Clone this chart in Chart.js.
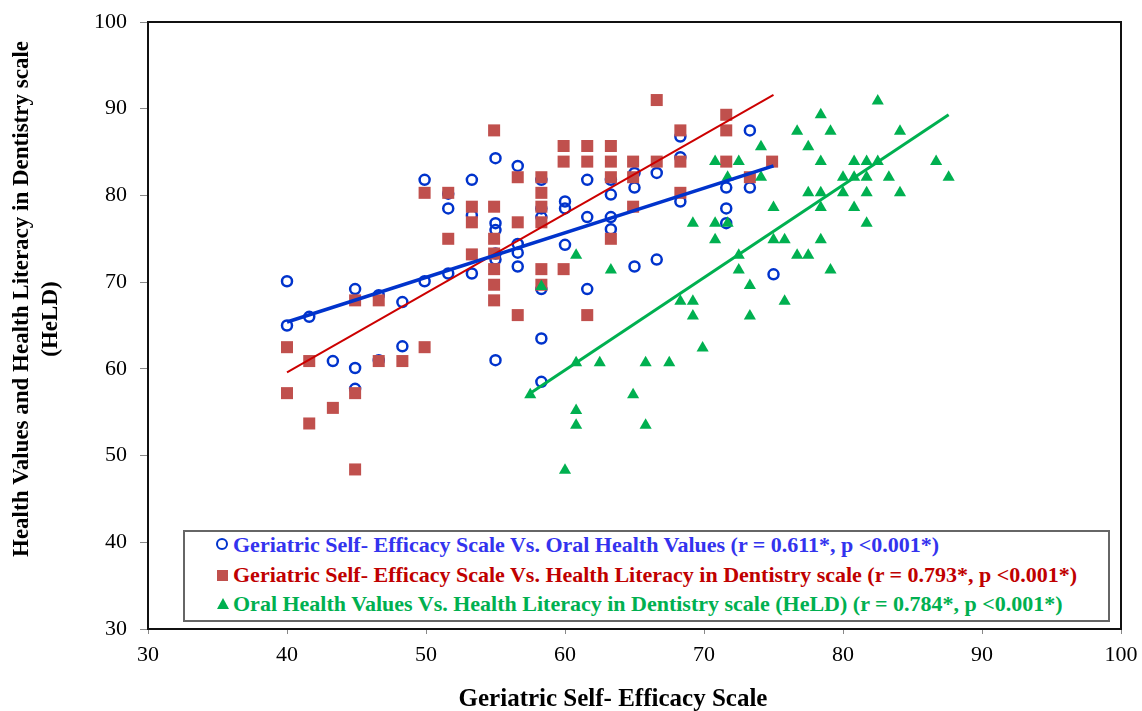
<!DOCTYPE html>
<html>
<head>
<meta charset="utf-8">
<title>Geriatric Self-Efficacy scatter</title>
<script src="https://cdn.jsdelivr.net/npm/chart.js@4.4.1/dist/chart.umd.min.js"></script>
<style>
    body { margin: 0; background: #fff; }
    #wrap { position: relative; width: 1142px; height: 711px; }
    #legend {
        position: absolute; left: 183px; top: 530px; width: 923px; height: 88px;
        border: 2px solid #666; background: #fff;
        font-family: "Liberation Serif", "Times New Roman", serif; font-weight: bold; font-size: 22px;
    }
    .row { position: absolute; left: 48px; height: 30px; line-height: 30px; white-space: nowrap; }
    .mk { position: absolute; }
    .circle { width: 8px; height: 8px; border: 2.5px solid #0033cc; border-radius: 50%; }
    .square { width: 11px; height: 11px; background: #c0504d; }
    .triangle { width: 0; height: 0; border-left: 6px solid transparent; border-right: 6px solid transparent; border-bottom: 11px solid #00b050; }
</style>
</head>
<body>
<div id="wrap">
    <canvas id="graph" width="1142" height="711"></canvas>
    <div id="legend"></div>
</div>
<script>
'use strict';

// Axe x : Geriatric Self-Efficacy Scale (ou Oral Health Values pour la série verte)
const xTicks = [30, 40, 50, 60, 70, 80, 90, 100];
const yTicks = [30, 40, 50, 60, 70, 80, 90, 100];

// Série 1 : GSES vs Oral Health Values (cercles bleus)
const blueX = [40, 40, 41.6, 43.3, 44.9, 44.9, 44.9, 46.6, 46.6, 48.3, 48.3, 49.9, 49.9,
    51.6, 51.6, 51.6, 53.3, 53.3, 53.3, 55, 55, 55, 55, 55, 55, 56.6, 56.6, 56.6, 56.6,
    58.3, 58.3, 58.3, 58.3, 58.3, 58.3, 60, 60, 60, 61.6, 61.6, 61.6, 63.3, 63.3, 63.3, 63.3,
    65, 65, 65, 66.6, 66.6, 68.3, 68.3, 68.3, 71.6, 71.6, 71.6, 73.3, 73.3, 75];
const blueY = [70.1, 65.0, 66.0, 60.9, 69.2, 60.1, 57.7, 68.5, 61.0, 67.7, 62.6, 81.8, 70.1,
    80.2, 78.5, 71.0, 81.8, 77.7, 71.0, 84.3, 76.8, 76.0, 73.3, 72.6, 61.0, 83.4, 74.4, 73.4, 71.8,
    81.8, 78.5, 77.5, 69.2, 63.5, 58.5, 79.3, 78.5, 74.3, 81.8, 77.5, 69.2, 81.8, 80.1, 77.5, 76.1,
    82.6, 80.9, 71.8, 82.6, 72.6, 86.8, 84.4, 79.3, 80.9, 78.5, 76.8, 87.5, 80.9, 70.9];

// Série 2 : GSES vs HeLD (carrés rouges)
const redX = [40, 40, 41.6, 41.6, 43.3, 44.9, 44.9, 44.9, 46.6, 46.6, 48.3, 49.9, 49.9,
    51.6, 51.6, 53.3, 53.3, 53.3, 54.9, 54.9, 54.9, 54.9, 54.9, 54.9, 54.9, 56.6, 56.6, 56.6,
    58.3, 58.3, 58.3, 58.3, 58.3, 58.3, 59.9, 59.9, 59.9, 61.6, 61.6, 61.6, 63.3, 63.3, 63.3, 63.3,
    64.9, 64.9, 64.9, 66.6, 66.6, 68.3, 68.3, 68.3, 71.6, 71.6, 71.6, 73.3, 74.9];
const redY = [62.5, 57.2, 60.9, 53.7, 55.5, 67.9, 57.2, 48.4, 67.9, 60.9, 60.9, 80.3, 62.5,
    80.3, 75.0, 78.7, 76.9, 73.2, 87.5, 78.7, 75.0, 73.3, 71.5, 69.7, 67.9, 82.1, 76.9, 66.2,
    82.1, 80.3, 78.7, 76.9, 71.5, 69.7, 85.7, 83.9, 71.5, 85.7, 83.9, 66.2, 85.7, 83.9, 82.1, 75.0,
    83.9, 82.1, 78.7, 91.0, 83.9, 87.5, 83.9, 80.3, 89.3, 87.5, 83.9, 82.1, 83.9];

// Série 3 : Oral Health Values vs HeLD (triangles verts)
const greenX = [57.5, 58.3, 60.0, 60.8, 60.8, 60.8, 60.8, 62.5, 63.3, 64.9, 65.8, 65.8, 67.5,
    68.3, 69.2, 69.2, 69.2, 69.9, 70.8, 70.8, 70.8, 71.7, 71.7, 72.5, 72.5, 72.5, 73.3, 73.3,
    74.1, 74.1, 75.0, 75.0, 75.8, 75.8, 76.7, 76.7, 77.5, 77.5, 77.5, 78.4, 78.4, 78.4, 78.4, 78.4,
    79.1, 79.1, 80.0, 80.0, 80.8, 80.8, 80.8, 81.7, 81.7, 81.7, 81.7, 82.5, 82.5, 83.3, 84.1, 84.1,
    86.7, 87.6];
const greenY = [57.0, 69.5, 48.3, 73.1, 60.7, 55.2, 53.5, 60.7, 71.4, 57.0, 60.7, 53.5, 60.7,
    67.8, 76.8, 67.8, 66.1, 62.4, 83.9, 76.8, 74.9, 82.1, 76.8, 83.9, 73.1, 71.4, 69.6, 66.1,
    85.6, 82.1, 78.6, 74.9, 74.9, 67.8, 87.4, 73.1, 85.6, 80.3, 73.1, 89.3, 83.9, 80.3, 78.6, 74.9,
    87.4, 71.4, 82.1, 80.3, 83.9, 82.1, 78.6, 83.9, 82.1, 80.3, 76.8, 90.9, 83.9, 82.1, 87.4, 80.3,
    83.9, 82.1];

// Droites de régression (extrémités)
const blueFitX = [40, 75];
const blueFitY = [65.4, 83.4];
const redFitX = [40, 75];
const redFitY = [59.6, 91.6];
const greenFitX = [57.5, 87.6];
const greenFitY = [57.2, 89.3];

const seriesLabels = [
    'Geriatric Self- Efficacy Scale Vs. Oral Health Values (r = 0.611*, p <0.001*)',
    'Geriatric Self- Efficacy Scale Vs. Health Literacy in Dentistry scale (r = 0.793*, p <0.001*)',
    'Oral Health Values Vs. Health Literacy in Dentistry scale (HeLD) (r = 0.784*, p <0.001*)'
];
const xTitle = 'Geriatric Self- Efficacy Scale';
const yTitle = ['Health Values and Health Literacy in Dentistry scale', '(HeLD)'];

const BLUE = '#0033cc';
const RED = '#c0504d';
const GREEN = '#00b050';

function toPoints(xs, ys) {
    return xs.map((x, i) => ({ x: x, y: ys[i] }));
}

// Cadre du graphique et titres des axes
const frameAndTitles = {
    id: 'frameAndTitles',
    afterDraw(chart) {
        const { ctx, chartArea: a } = chart;
        ctx.save();
        ctx.strokeStyle = '#111';
        ctx.lineWidth = 2;
        ctx.strokeRect(a.left, a.top, a.right - a.left, a.bottom - a.top);
        ctx.fillStyle = '#000';
        ctx.font = 'bold 25px "Liberation Serif"';
        ctx.textAlign = 'center';
        ctx.textBaseline = 'middle';
        ctx.fillText(xTitle, 613, 700);
        ctx.font = 'bold 23px "Liberation Serif"';
        ctx.translate(22, 299);
        ctx.rotate(-Math.PI / 2);
        ctx.fillText(yTitle[0], 0, 0);
        ctx.fillText(yTitle[1], -20, 29);
        ctx.restore();
    }
};

const tickFont = { family: '"Liberation Serif", "Times New Roman", serif', size: 22 };

const ctx = document.getElementById('graph').getContext('2d');
new Chart(ctx, {
    type: 'scatter',
    data: {
        datasets: [
            { data: toPoints(blueFitX, blueFitY), showLine: true, borderColor: BLUE, borderWidth: 3.5, pointRadius: 0, order: 0 },
            { data: toPoints(redFitX, redFitY), showLine: true, borderColor: '#cc0000', borderWidth: 2, pointRadius: 0, order: 1 },
            { data: toPoints(greenFitX, greenFitY), showLine: true, borderColor: GREEN, borderWidth: 3, pointRadius: 0, order: 2 },
            { label: seriesLabels[2], data: toPoints(greenX, greenY), pointStyle: 'triangle', pointRadius: 7, backgroundColor: GREEN, borderColor: GREEN, borderWidth: 0, order: 3 },
            { label: seriesLabels[1], data: toPoints(redX, redY), pointStyle: 'rect', pointRadius: 8.5, backgroundColor: RED, borderColor: RED, borderWidth: 0, order: 4 },
            { label: seriesLabels[0], data: toPoints(blueX, blueY), pointStyle: 'circle', pointRadius: 5, backgroundColor: 'rgba(0,0,0,0)', borderColor: BLUE, borderWidth: 2.5, order: 5 }
        ]
    },
    options: {
        responsive: false,
        animation: false,
        devicePixelRatio: 1,
        layout: { padding: { top: 22, right: 21, left: 0, bottom: 0 } },
        plugins: { legend: { display: false }, tooltip: { enabled: false } },
        scales: {
            x: {
                type: 'linear', min: 30, max: 100,
                afterBuildTicks: s => { s.ticks = xTicks.map(v => ({ value: v })); },
                afterFit: s => { s.height = 82; s.paddingLeft = 0; s.paddingRight = 0; },
                grid: { drawOnChartArea: false, drawTicks: true, tickLength: 5, color: '#888' },
                border: { display: false },
                ticks: { font: tickFont, color: '#000', padding: 8 }
            },
            y: {
                type: 'linear', min: 30, max: 100,
                afterBuildTicks: s => { s.ticks = yTicks.map(v => ({ value: v })); },
                afterFit: s => { s.width = 148; s.paddingTop = 0; s.paddingBottom = 0; },
                grid: { drawOnChartArea: false, drawTicks: true, tickLength: 8, color: '#888' },
                border: { display: false },
                ticks: { font: tickFont, color: '#000', padding: 13 }
            }
        }
    },
    plugins: [frameAndTitles]
});

// Légende HTML placée dans la zone du graphique
const legendItems = [
    { cls: 'circle', color: '#3333ee', top: 13, left: 31, mkTop: 8 },
    { cls: 'square', color: '#c00000', top: 43, left: 32, mkTop: 10 },
    { cls: 'triangle', color: '#00b050', top: 72, left: 32, mkTop: 9 }
];
const legend = document.getElementById('legend');
legendItems.forEach((item, i) => {
    const mk = document.createElement('div');
    mk.className = 'mk ' + item.cls;
    mk.style.left = item.left + 'px';
    mk.style.top = (item.top - 15 + item.mkTop) + 'px';
    legend.appendChild(mk);
    const row = document.createElement('div');
    row.className = 'row';
    row.style.top = (item.top - 15) + 'px';
    row.style.color = item.color;
    row.textContent = seriesLabels[i];
    legend.appendChild(row);
});
</script>
</body>
</html>
